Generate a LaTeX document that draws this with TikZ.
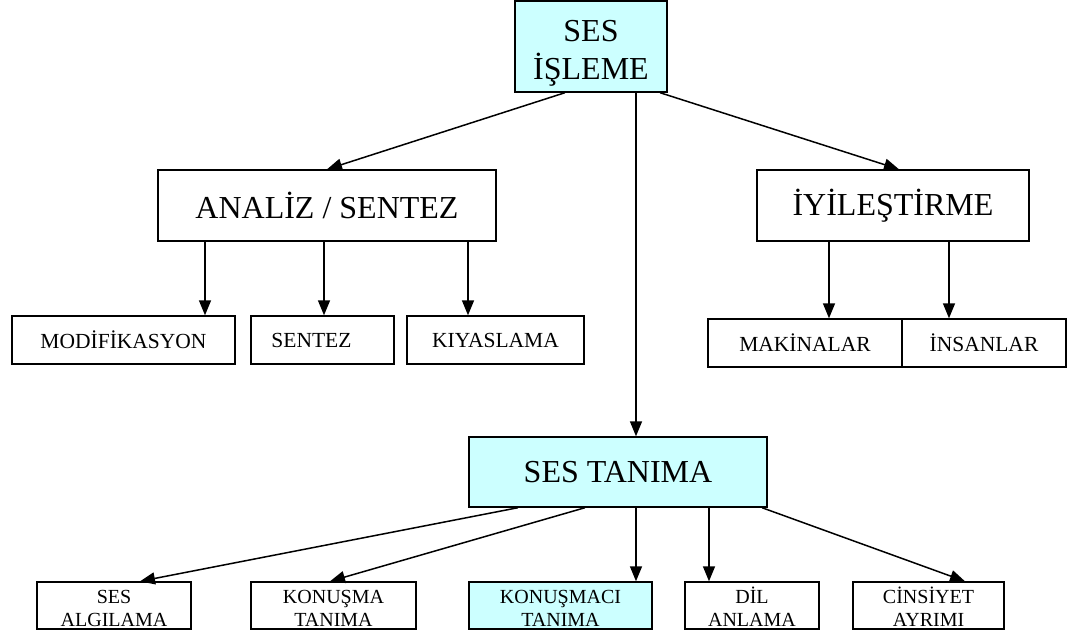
\documentclass[tikz,border=0pt]{standalone}
\usepackage{fontspec}
\setmainfont{Liberation Serif}
\usetikzlibrary{calc,arrows.meta}
\definecolor{boxcyan}{HTML}{CCFFFF}
\tikzset{
  box/.style={draw=black, line width=1.4pt, fill=white, inner sep=0pt, align=center},
  hl/.style={fill=boxcyan},
  big/.style={font=\fontsize{32}{38}\selectfont},
  mid/.style={font=\fontsize{21.5}{24}\selectfont},
  small/.style={font=\fontsize{20}{23}\selectfont},
  link/.style={line width=1.5pt, -{Triangle[length=15pt,width=12pt]}},
}
% place a box by its corners (pixel-like units, y downwards)
\newcommand{\pbox}[7]{%
  \node[box,#2,minimum width={#5-#3}, minimum height={#6-#4}] (#1) at ({(#3+#5)/2},{(#4+#6)/2}) {#7};}
% extra room above the first line, pushing two-line labels down
\newcommand{\lift}[1]{\rule{0pt}{#1}}
\begin{document}
\begin{tikzpicture}[x=1pt,y=-1pt]
\useasboundingbox (0,0) rectangle (1069,631);
% top level
\pbox{isleme}{big,hl}{515}{1}{667}{92}{\lift{35pt}SES\\İŞLEME}
% second level
\pbox{analiz}{big}{158}{170}{496}{241}{ANALİZ / SENTEZ}
\pbox{iyiles}{big}{757}{170}{1029}{241}{İYİLEŞTİRME}
% analysis children
\pbox{modif}{mid}{12}{316}{235}{364}{MODİFİKASYON}
\pbox{sentez}{mid}{251}{316}{394}{364}{SENTEZ\rule{22pt}{0pt}}
\pbox{kiyas}{mid}{407}{316}{584}{364}{KIYASLAMA}
% improvement children
\pbox{makina}{mid}{708}{319}{902}{367}{MAKİNALAR}
\pbox{insan}{mid}{902}{319}{1066}{367}{İNSANLAR}
% recognition
\pbox{tanima}{big,hl}{469}{437}{767}{507}{SES TANIMA}
\pbox{algi}{small}{37}{582}{191}{629}{\lift{19pt}SES\\ALGILAMA}
\pbox{konusma}{small}{251}{582}{416}{629}{\lift{19pt}KONUŞMA\\TANIMA}
\pbox{konusmaci}{small,hl}{469}{582}{652}{629}{\lift{19pt}KONUŞMACI\\TANIMA}
\pbox{dil}{small}{685}{582}{819}{629}{\lift{19pt}DİL\\ANLAMA}
\pbox{cins}{small}{853}{582}{1004}{629}{\lift{19pt}CİNSİYET\\AYRIMI}
% connectors from the top box
\draw[link] (isleme.south -| 565,0) -- (analiz.north -| 327,0);
\draw[link] (isleme.south -| 636,0) -- (tanima.north -| 636,0);
\draw[link] (isleme.south -| 660,0) -- (iyiles.north -| 899,0);
% analysis
\draw[link] (analiz.south -| 205,0) -- (modif.north -| 205,0);
\draw[link] (analiz.south -| 324,0) -- (sentez.north -| 324,0);
\draw[link] (analiz.south -| 468,0) -- (kiyas.north -| 468,0);
% improvement
\draw[link] (iyiles.south -| 829,0) -- (makina.north -| 829,0);
\draw[link] (iyiles.south -| 949,0) -- (insan.north -| 949,0);
% recognition
\draw[link] (tanima.south -| 518,0) -- (algi.north -| 140,0);
\draw[link] (tanima.south -| 585,0) -- (konusma.north -| 330,0);
\draw[link] (tanima.south -| 636,0) -- (konusmaci.north -| 636,0);
\draw[link] (tanima.south -| 709,0) -- (dil.north -| 709,0);
\draw[link] (tanima.south -| 762,0) -- (cins.north -| 965,0);
\end{tikzpicture}
\end{document}
